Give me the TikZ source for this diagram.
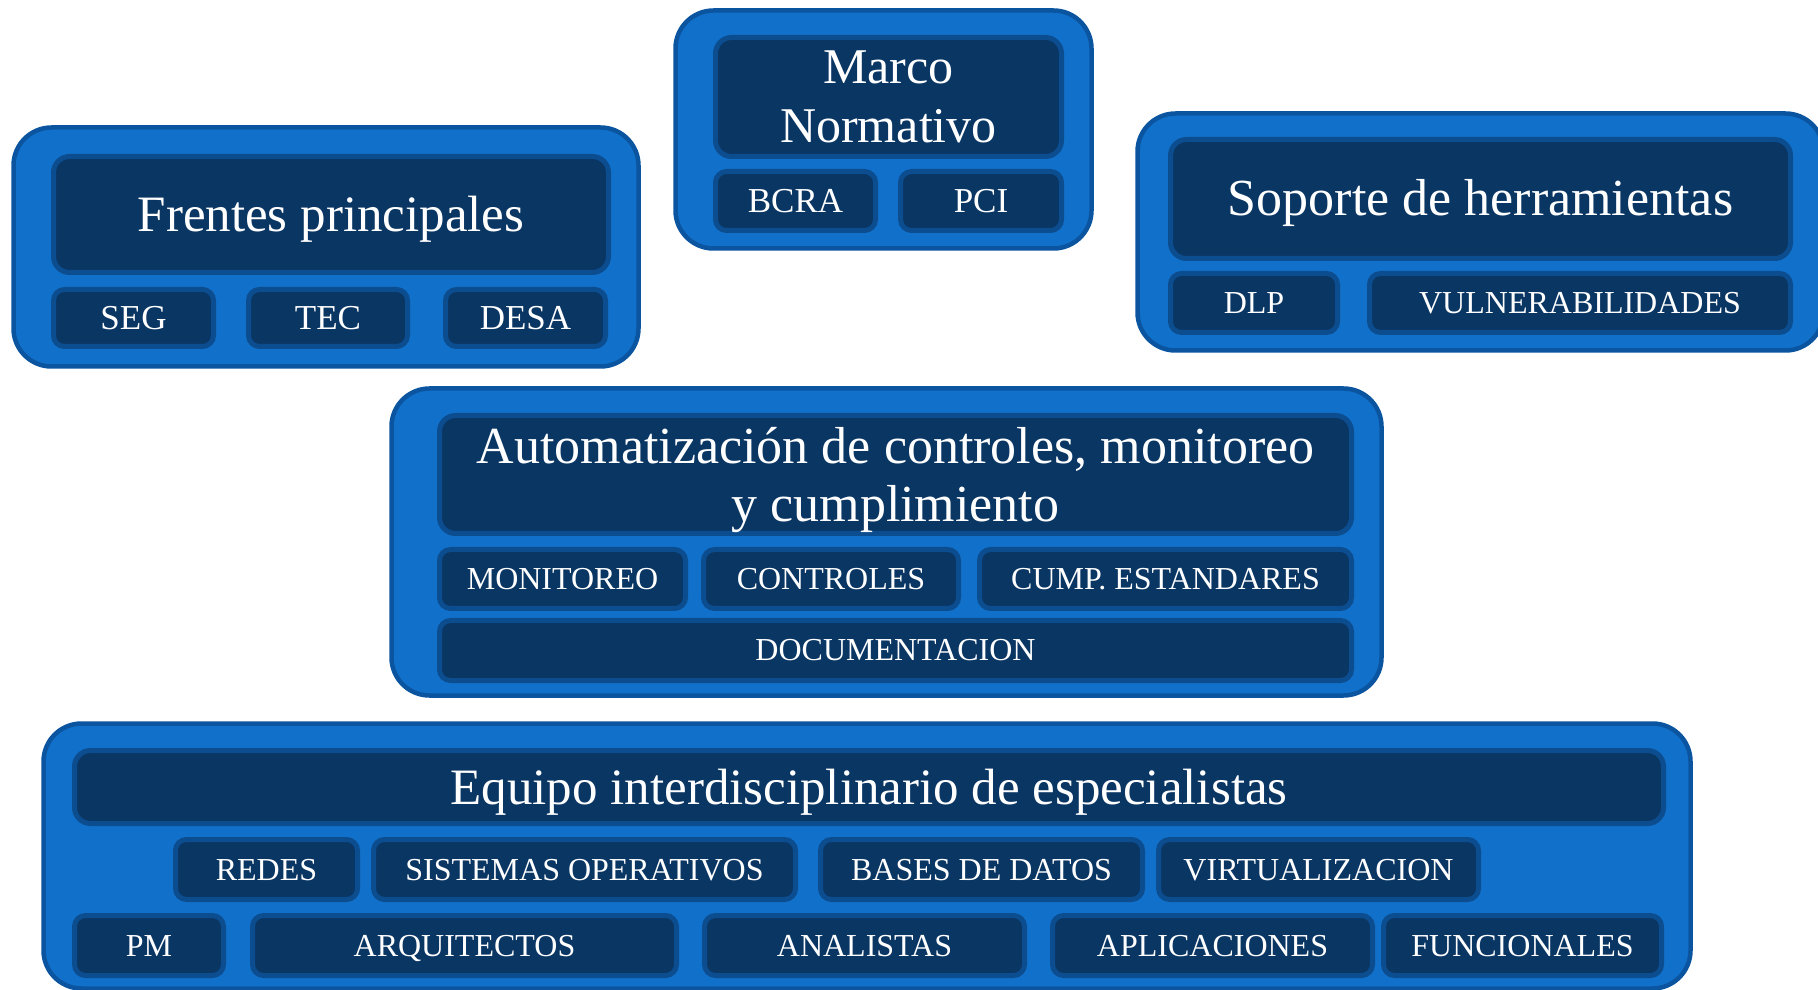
\documentclass[tikz,border=0pt]{standalone}
\usepackage{fontspec}
\setmainfont{Liberation Serif}
\definecolor{outerfill}{RGB}{17,112,201}
\definecolor{outerline}{RGB}{11,85,160}
\definecolor{innerfill}{RGB}{10,54,100}
\definecolor{innerline}{RGB}{12,77,143}
% #1 name, #2 style, #3 x1, #4 y1, #5 x2, #6 y2 (pixel coords, y down), #7 text
\newcommand{\mybx}[7]{%
  \node[#2, minimum width={#5-#3-5}, minimum height={#6-#4-5}] (#1)
    at ({(#3+#5)/2},{989-(#4+#6)/2}) {#7};}
\begin{document}
\begin{tikzpicture}[x=1pt,y=1pt,
  outerbx/.style={draw=outerline, fill=outerfill, line width=4.5pt,
    rounded corners=38pt, inner sep=0pt},
  innerbase/.style={draw=innerline, fill=innerfill, line width=5pt,
    text=white, inner sep=0pt, align=center},
  titlebx/.style={innerbase, rounded corners=16pt,
    font=\fontsize{51}{58}\selectfont, text height=34pt, text depth=0pt},
  multibx/.style={innerbase, rounded corners=16pt,
    font=\fontsize{50}{58.5}\selectfont},
  itembx/.style={innerbase, rounded corners=11pt,
    font=\fontsize{32}{38}\selectfont, text height=21pt, text depth=0pt},
  itembig/.style={itembx, font=\fontsize{35}{40}\selectfont, text height=23pt}]
\useasboundingbox (0,0) rectangle (1818,989);
\clip (0,0) rectangle (1818,989);

% Frentes principales
\mybx{oF}{outerbx}{11}{125}{641}{369}{}
\mybx{tF}{titlebx}{51}{154}{611}{275}{Frentes principales}
\mybx{seg}{itembig}{51}{287}{216}{349}{SEG}
\mybx{tec}{itembig}{246}{287}{410}{349}{TEC}
\mybx{desa}{itembig}{443}{287}{608}{349}{DESA}

% Marco Normativo
\mybx{oM}{outerbx}{673}{8}{1094}{251}{}
\mybx{tM}{multibx}{713}{35}{1064}{159}{Marco\\Normativo}
\mybx{bcra}{itembig}{713}{169}{878}{233}{BCRA}
\mybx{pci}{itembig}{898}{169}{1064}{233}{PCI}

% Soporte de herramientas
\mybx{oS}{outerbx}{1135}{111}{1826}{353}{}
\mybx{tS}{titlebx, font=\fontsize{52}{58}\selectfont}{1168}{137}{1793}{261}{Soporte de herramientas}
\mybx{dlp}{itembx}{1168}{271}{1340}{335}{DLP}
\mybx{vuln}{itembx}{1367}{271}{1793}{335}{VULNERABILIDADES}

% Automatizacion
\mybx{oA}{outerbx}{389}{386}{1384}{698}{}
\mybx{tA}{multibx, font=\fontsize{52}{58}\selectfont}{437}{413}{1354}{536}{Automatización de controles, monitoreo\\\raisebox{0pt}[\height][0pt]{y cumplimiento}}
\mybx{mon}{itembx}{437}{547}{688}{611}{MONITOREO}
\mybx{ctl}{itembx}{701}{547}{961}{611}{CONTROLES}
\mybx{cump}{itembx}{977}{547}{1354}{611}{CUMP. ESTANDARES}
\mybx{doc}{itembx}{437}{618}{1354}{683}{DOCUMENTACION}

% Equipo interdisciplinario
\mybx{oE}{outerbx}{41}{721}{1693}{991}{}
\mybx{tE}{titlebx}{72}{748}{1666}{826}{Equipo interdisciplinario de especialistas}
\mybx{redes}{itembx}{173}{837}{360}{902}{REDES}
\mybx{so}{itembx}{371}{837}{798}{902}{SISTEMAS OPERATIVOS}
\mybx{bd}{itembx}{818}{837}{1145}{902}{BASES DE DATOS}
\mybx{virt}{itembx}{1156}{837}{1481}{902}{VIRTUALIZACION}
\mybx{pm}{itembx}{72}{913}{226}{978}{PM}
\mybx{arq}{itembx}{250}{913}{679}{978}{ARQUITECTOS}
\mybx{anal}{itembx}{702}{913}{1027}{978}{ANALISTAS}
\mybx{apl}{itembx}{1050}{913}{1375}{978}{APLICACIONES}
\mybx{func}{itembx}{1381}{913}{1664}{978}{FUNCIONALES}
\end{tikzpicture}
\end{document}
